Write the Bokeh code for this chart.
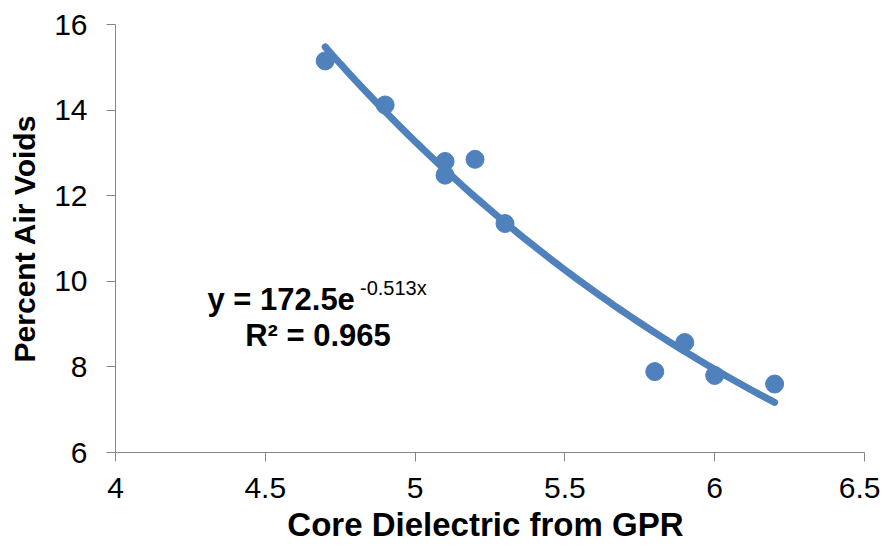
from bokeh.plotting import figure
from bokeh.models import Label, Range1d, FixedTicker
from bokeh.embed import file_html
from bokeh.resources import INLINE
import numpy as np

# Data
dielectric = [4.7, 4.9, 5.1, 5.1, 5.2, 5.3, 5.8, 5.9, 6.0, 6.2]
air_voids = [15.15, 14.12, 12.80, 12.48, 12.85, 11.35, 7.89, 8.57, 7.80, 7.60]
x_ticks = [4, 4.5, 5, 5.5, 6, 6.5]
y_ticks = [6, 8, 10, 12, 14, 16]
x_title = "Core Dielectric from  GPR"
y_title = "Percent Air Voids"
fit_a = 172.5
fit_b = -0.513
fit_r2 = 0.965

BLUE = "#4F81BD"
FONT = "Liberation Sans"

p = figure(width=880, height=545, output_backend="svg", toolbar_location=None,
           x_range=Range1d(4, 6.5), y_range=Range1d(6, 16),
           min_border_left=115, min_border_right=16, min_border_top=24, min_border_bottom=93)
p.outline_line_color = None
p.grid.visible = False
p.background_fill_color = "white"

# trendline (exponential fit shown on the chart)
xf = np.linspace(min(dielectric), max(dielectric), 60)
yf = fit_a * np.exp(fit_b * xf)
p.line(xf, yf, line_color=BLUE, line_width=7, line_cap="round")
p.scatter(dielectric, air_voids, size=18, fill_color=BLUE, line_color=BLUE)

for ax in (p.xaxis[0], p.yaxis[0]):
    ax.axis_line_color = "#868686"
    ax.major_tick_line_color = "#868686"
    ax.minor_tick_line_color = None
    ax.major_tick_in = 0
    ax.major_tick_out = 9
    ax.major_label_text_font = FONT
    ax.major_label_text_font_size = "30px"
    ax.major_label_text_color = "black"
    ax.axis_label_text_font = FONT
    ax.axis_label_text_font_style = "bold"
    ax.axis_label_text_color = "black"

p.xaxis.ticker = FixedTicker(ticks=x_ticks)
p.yaxis.ticker = FixedTicker(ticks=y_ticks)
p.xaxis.major_label_overrides = {t: f"{t:g}" for t in x_ticks}
p.yaxis.major_label_overrides = {t: f"{t:g}" for t in y_ticks}
p.xaxis.axis_label = x_title
p.yaxis.axis_label = y_title
p.xaxis.axis_label_text_font_size = "33px"
p.yaxis.axis_label_text_font_size = "30px"
p.xaxis.major_label_standoff = 16
p.yaxis.major_label_standoff = 19
p.xaxis.axis_label_standoff = 5
p.yaxis.axis_label_standoff = 10

eq_main = Label(x=4.307, y=9.565, text=f"y = {fit_a}e", text_font=FONT, text_font_size="31px",
                text_font_style="bold", text_color="black", text_align="left", text_baseline="alphabetic")
eq_sup = Label(x=4.816, y=9.85, text=f"{fit_b}x", text_font=FONT, text_font_size="20px",
               text_color="black", text_align="left", text_baseline="alphabetic")
eq_r2 = Label(x=4.676, y=8.744, text=f"R² = {fit_r2}", text_font=FONT, text_font_size="31px",
              text_font_style="bold", text_color="black", text_align="center", text_baseline="alphabetic")
for l in (eq_main, eq_sup, eq_r2):
    p.add_layout(l)

open("out.html", "w").write(file_html(p, INLINE))
